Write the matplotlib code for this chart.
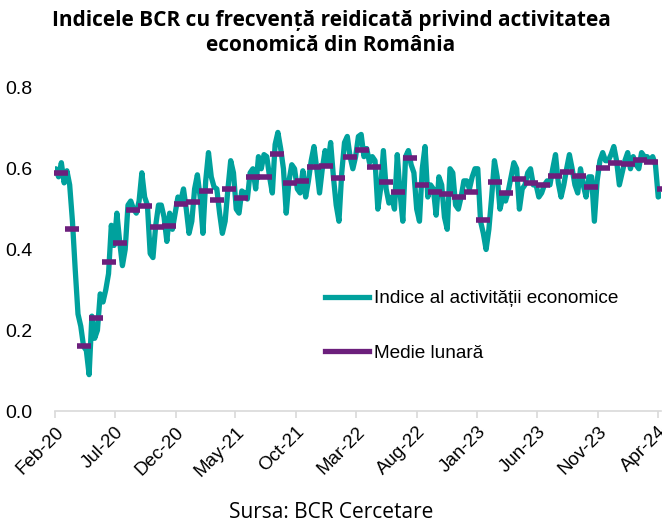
import numpy as np
import pandas as pd
import matplotlib
matplotlib.use('Agg')
import matplotlib.pyplot as plt
from matplotlib.lines import Line2D

# weekly index of economic activity
index_values = [
    0.60, 0.58, 0.615, 0.565, 0.595, 0.56, 0.47, 0.35, 0.24, 0.21,
    0.16, 0.15, 0.09, 0.235, 0.18, 0.20, 0.29, 0.27, 0.30, 0.34,
    0.46, 0.41, 0.49, 0.42, 0.36, 0.40, 0.51, 0.52, 0.50, 0.49,
    0.52, 0.59, 0.53, 0.51, 0.39, 0.38, 0.46, 0.51, 0.51, 0.48,
    0.42, 0.49, 0.45, 0.49, 0.53, 0.52, 0.55, 0.50, 0.44, 0.47,
    0.55, 0.585, 0.53, 0.44, 0.57, 0.64, 0.58, 0.555, 0.55, 0.49,
    0.44, 0.47, 0.55, 0.62, 0.59, 0.50, 0.49, 0.545, 0.54, 0.525,
    0.59, 0.60, 0.55, 0.63, 0.60, 0.635, 0.63, 0.58, 0.54, 0.66,
    0.69, 0.65, 0.60, 0.49, 0.57, 0.61, 0.60, 0.55, 0.54, 0.595,
    0.53, 0.57, 0.62, 0.655, 0.60, 0.54, 0.60, 0.645, 0.61, 0.665,
    0.58, 0.51, 0.47, 0.59, 0.665, 0.68, 0.63, 0.60, 0.63, 0.68,
    0.685, 0.63, 0.65, 0.615, 0.63, 0.62, 0.50, 0.55, 0.645, 0.55,
    0.515, 0.53, 0.50, 0.635, 0.54, 0.47, 0.63, 0.645, 0.61, 0.59,
    0.50, 0.47, 0.60, 0.655, 0.53, 0.56, 0.55, 0.485, 0.58, 0.56,
    0.48, 0.45, 0.60, 0.59, 0.51, 0.50, 0.53, 0.57, 0.57, 0.55,
    0.58, 0.60, 0.60, 0.47, 0.44, 0.40, 0.45, 0.53, 0.62, 0.58,
    0.50, 0.53, 0.52, 0.545, 0.58, 0.615, 0.60, 0.50, 0.55, 0.56,
    0.59, 0.60, 0.56, 0.56, 0.53, 0.54, 0.56, 0.57, 0.56, 0.60,
    0.635, 0.565, 0.53, 0.56, 0.60, 0.635, 0.60, 0.56, 0.54, 0.60,
    0.56, 0.53, 0.58, 0.58, 0.47, 0.57, 0.62, 0.64, 0.62, 0.62,
    0.635, 0.655, 0.62, 0.56, 0.59, 0.62, 0.64, 0.60, 0.63, 0.61,
    0.60, 0.64, 0.63, 0.63, 0.62, 0.63, 0.61, 0.53, 0.535,
]

# monthly averages Feb-20 .. Apr-24
monthly_avg = [
    0.59, 0.45, 0.16, 0.23, 0.37, 0.415, 0.497, 0.508, 0.455, 0.458, 0.513,
    0.518, 0.544, 0.523, 0.549, 0.528, 0.579, 0.579, 0.637, 0.564, 0.570, 0.604, 0.608,
    0.578, 0.628, 0.646, 0.605, 0.568, 0.542, 0.626, 0.559, 0.542, 0.537, 0.530, 0.542,
    0.473, 0.566, 0.539, 0.575, 0.565, 0.560, 0.583, 0.593, 0.581, 0.554, 0.603, 0.615,
    0.613, 0.622, 0.617, 0.550,
]

title = 'Indicele BCR cu frecvență reidicată privind activitatea\neconomică din România'
label_index = 'Indice al activității economice'
label_avg = 'Medie lunară'
source = 'Sursa: BCR Cercetare'

teal = '#00a19d'
purple = '#6c1f7c'

weeks = pd.date_range('2020-02-03', periods=len(index_values), freq='7D')
months = pd.date_range('2020-02-01', periods=len(monthly_avg), freq='MS') + pd.Timedelta(days=14)
ticks = pd.date_range('2020-02-01', '2024-04-01', freq='5MS')

fig = plt.figure(figsize=(6.62, 5.27), dpi=100)
ax = fig.add_axes([55/662, 116/527, 606/662, 323/527])

ax.plot(weeks, index_values, color=teal, lw=3.8, solid_joinstyle='round',
        solid_capstyle='round', zorder=2)
ax.plot(months, monthly_avg, ls='none', marker='_', ms=10.5, mew=4,
        color=purple, zorder=3, clip_on=False)

ax.set_xlim(pd.Timestamp('2020-02-01'), pd.Timestamp('2024-04-08'))
ax.set_ylim(0, 0.8)
ax.set_yticks([0, 0.2, 0.4, 0.6, 0.8])
ax.set_yticklabels(['%.1f' % v for v in [0, 0.2, 0.4, 0.6, 0.8]],
                   family='Liberation Sans', fontsize=14)
ax.set_xticks(ticks)
ax.set_xticklabels([t.strftime('%b-%y') for t in ticks], rotation=45, ha='right',
                   rotation_mode='anchor', family='Liberation Sans', fontsize=13.5)

for s in ['top', 'right', 'left']:
    ax.spines[s].set_visible(False)
ax.spines['bottom'].set_color('#d9d9d9')
ax.spines['bottom'].set_linewidth(1.2)
ax.tick_params(axis='y', length=0, pad=16)
ax.tick_params(axis='x', length=5, color='#d9d9d9', width=1.2, pad=4)

handles = [Line2D([], [], color=teal, lw=3.8),
           Line2D([], [], color=purple, lw=3.8)]
fig.legend(handles, [label_index, label_avg], loc='upper left',
           bbox_to_anchor=(325/662, (527-290)/527), bbox_transform=fig.transFigure,
           frameon=False, borderpad=0, borderaxespad=0, labelspacing=1.95,
           handlelength=2.3, handletextpad=0.25,
           prop={'family': 'Liberation Sans', 'size': 13.7})

fig.text(0.5, 1 - 33/527, title, ha='center', va='center', family='Open Sans',
         weight='bold', fontsize=15, linespacing=1.2)
fig.text(0.5, 1 - 513/527, source, ha='center', va='center', family='Open Sans',
         fontsize=15)

fig.savefig('out.png', dpi=100)
